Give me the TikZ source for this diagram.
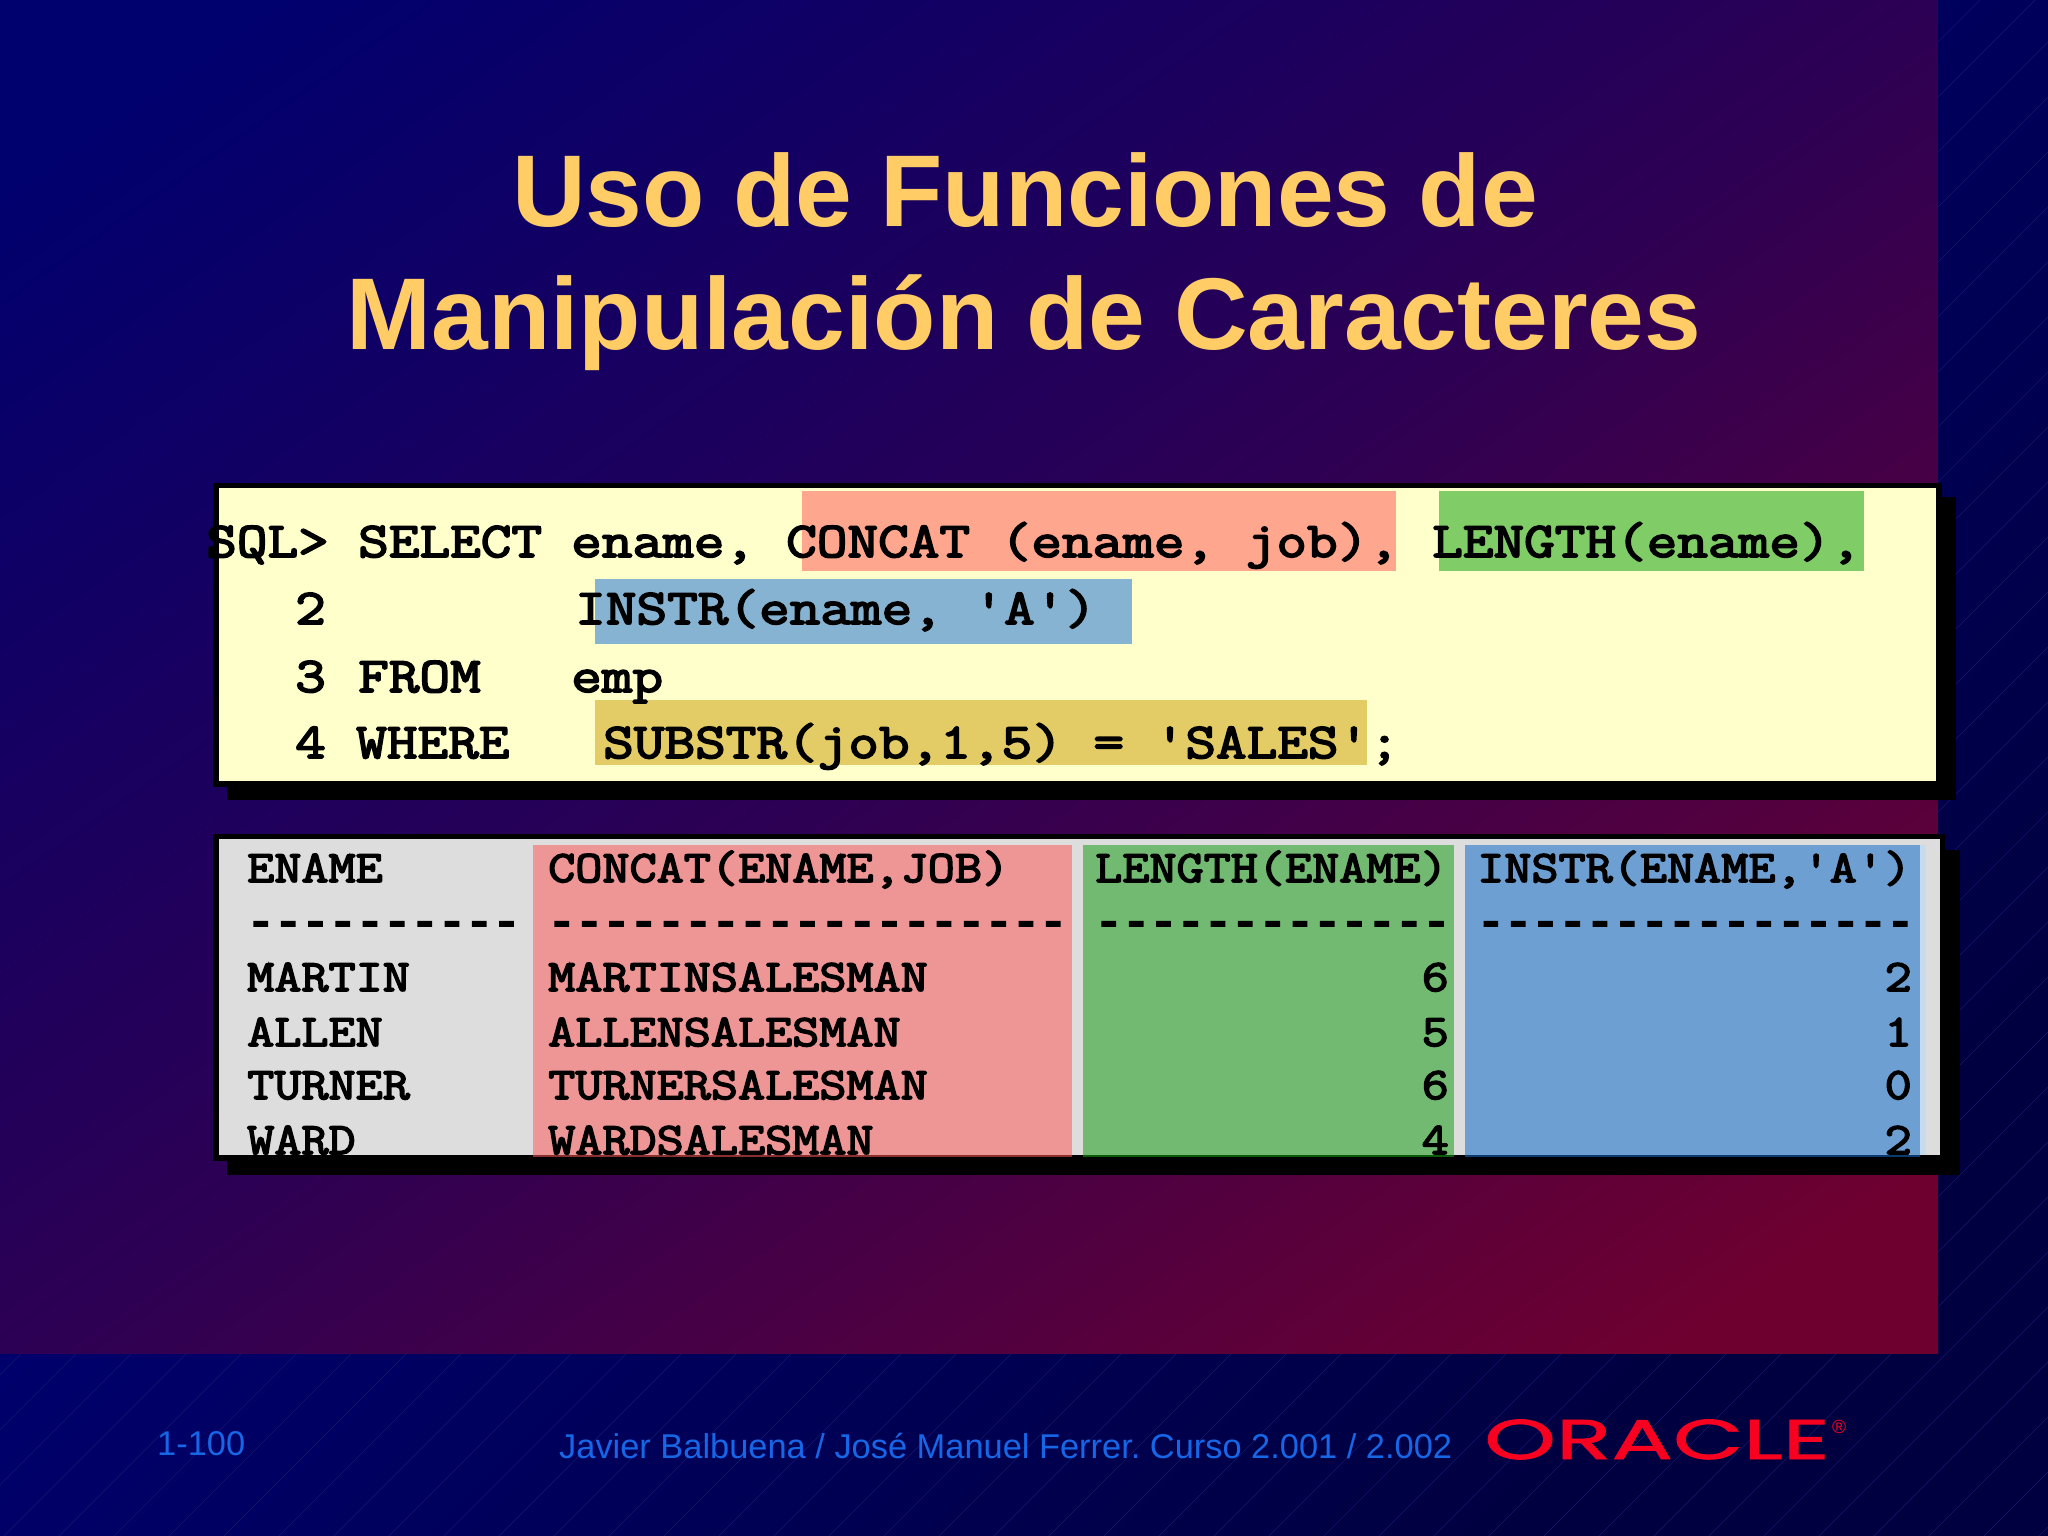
\documentclass[tikz,border=0pt]{standalone}
\usepackage{fontspec}
\setmainfont{Liberation Sans}
\newfontfamily\monoA[FakeBold=3.5,FakeStretch=1.19]{Latin Modern Mono}
\newfontfamily\monoB[FakeBold=3.5,FakeStretch=1.17]{Latin Modern Mono}
\newfontfamily\dashf[FakeBold=5]{Liberation Mono}
\newfontfamily\logof[FakeStretch=1.63,FakeBold=1.5]{Poppins}
\definecolor{bgA}{HTML}{000082}
\definecolor{bgB}{HTML}{000040}
\definecolor{panA}{HTML}{00006E}
\definecolor{panM}{HTML}{2C0054}
\definecolor{panB}{HTML}{6E0030}
\definecolor{stripe}{HTML}{18186E}
\definecolor{titlec}{HTML}{FFCC66}
\definecolor{cream}{HTML}{FFFFCC}
\definecolor{tablebg}{HTML}{DDDDDD}
\definecolor{hlred}{HTML}{FFA68E}
\definecolor{hlgreen}{HTML}{80CC66}
\definecolor{hlblue}{HTML}{85B3D1}
\definecolor{hlgold}{HTML}{E3CB66}
\definecolor{colred}{HTML}{EE9595}
\definecolor{colgreen}{HTML}{72BA72}
\definecolor{colblue}{HTML}{6D9FD2}
\definecolor{colredd}{HTML}{8A3030}
\definecolor{colgreend}{HTML}{0A5A0A}
\definecolor{colblued}{HTML}{0A3A70}
\definecolor{colbluel}{HTML}{C8DAEE}
\definecolor{footc}{HTML}{1666E6}
\definecolor{logoc}{HTML}{F80020}
\pgfdeclareverticalshading{panshade}{100bp}{color(0bp)=(panB); color(20bp)=(panB); color(50bp)=(panM); color(80bp)=(panA); color(100bp)=(panA)}
\tikzset{
  x=1pt,y=-1pt,
  sql/.style={anchor=base west,inner sep=0pt,font=\monoA\fontsize{50}{50}\selectfont,text=black},
  tab/.style={anchor=base west,inner sep=0pt,font=\monoB\fontsize{45}{45}\selectfont,text=black},
  tabr/.style={anchor=base east,inner sep=0pt,font=\monoB\fontsize{45}{45}\selectfont,text=black},
  dashrow/.style={anchor=base west,inner sep=0pt,font=\dashf\fontsize{45.5}{45.5}\selectfont,text=black},
  titletext/.style={anchor=base,inner sep=0pt,font=\bfseries\fontsize{102}{102}\selectfont,text=titlec},
  foot/.style={anchor=base west,inner sep=0pt,font=\frenchspacing\fontsize{34.4}{34.4}\selectfont,text=footc},
  stripeline/.style={stripe,line width=0.6pt},
}
\begin{document}
\begin{tikzpicture}
\useasboundingbox (0,0) rectangle (2048,1536);
\shade[top color=bgA,bottom color=bgB,shading angle=45] (0,0) rectangle (2048,1536);
\begin{scope}
\clip (0,0) rectangle (2048,1536);
\foreach \c in {0,55,...,3600} \draw[stripeline] (\c,0) -- (\c-1600,1600);
\end{scope}
\shade[shading=panshade,shading angle=35] (0,0) rectangle (1938,1353);

\node[titletext] (t1) at (1025,226) {Uso de Funciones de};
\node[titletext] (t2) at (1024,349) {Manipulación de Caracteres};

% SQL panel
\fill[black] (227,497) rectangle (1956,800);
\fill[black] (213,483) rectangle (1942,787);
\fill[cream] (219,488) rectangle (1936,781);
\fill[hlred] (802,491) rectangle (1396,571);
\fill[hlgreen] (1439,491) rectangle (1864,571);
\fill[hlblue] (595,579) rectangle (1132,644);
\fill[hlgold] (595,700) rectangle (1367,765);
\node[sql] (s1) at (206,557) {SQL>};
\node[sql] (s2) at (358,557) {SELECT};
\node[sql] (s3) at (571,557) {ename,};
\node[sql] (s4) at (786,557) {CONCAT (ename, job),};
\node[sql] (s5) at (1432,557) {LENGTH(ename),};
\node[sql] (s6) at (295,624) {2};
\node[sql] (s7) at (575,624) {INSTR(ename, 'A')};
\node[sql] (s8) at (295,692) {3};
\node[sql] (s9) at (358,692) {FROM};
\node[sql] (s10) at (571,692) {emp};
\node[sql] (s11) at (295,758) {4};
\node[sql] (s12) at (356,758) {WHERE};
\node[sql] (s13) at (603,758) {SUBSTR(job,1,5) = 'SALES';};

% result panel
\fill[black] (227,850) rectangle (1960,1175);
\fill[black] (213,834) rectangle (1945,1161);
\fill[tablebg] (219,839) rectangle (1940,1155);
\fill[colredd] (533,1155) rectangle (1072,1157);
\fill[colgreend] (1083,1155) rectangle (1454,1157);
\fill[colblued] (1465,1155) rectangle (1920,1157);
\fill[colred] (533,845) rectangle (1072,1155);
\fill[colgreen] (1083,845) rectangle (1454,1155);
\fill[colbluel] (1920,845) rectangle (1926,1155);
\fill[colblue] (1465,845) rectangle (1920,1155);
\node[tab] (h1) at (247,882) {ENAME};
\node[tab] (h2) at (548,882) {CONCAT(ENAME,JOB)};
\node[tab] (h3) at (1095,882) {LENGTH(ENAME)};
\node[tab] (h4) at (1477,882) {INSTR(ENAME,'A')};
\node[dashrow] (d1) at (247,936) {----------};
\node[dashrow] (d2) at (548,936) {-------------------};
\node[dashrow] (d3) at (1095,936) {-------------};
\node[dashrow] (d4) at (1477,936) {----------------};
\node[tab] (n1) at (247,991) {MARTIN};
\node[tab] (n2) at (247,1046) {ALLEN};
\node[tab] (n3) at (247,1099) {TURNER};
\node[tab] (n4) at (247,1154) {WARD};
\node[tab] (c1) at (548,991) {MARTINSALESMAN};
\node[tab] (c2) at (548,1046) {ALLENSALESMAN};
\node[tab] (c3) at (548,1099) {TURNERSALESMAN};
\node[tab] (c4) at (548,1154) {WARDSALESMAN};
\node[tabr] (l1) at (1449,991) {6};
\node[tabr] (l2) at (1449,1046) {5};
\node[tabr] (l3) at (1449,1099) {6};
\node[tabr] (l4) at (1449,1154) {4};
\node[tabr] (i1) at (1912,991) {2};
\node[tabr] (i2) at (1912,1046) {1};
\node[tabr] (i3) at (1912,1099) {0};
\node[tabr] (i4) at (1912,1154) {2};

% footer
\node[foot] (f1) at (157,1455) {1-100};
\node[foot] (f2) at (559,1458) {Javier Balbuena / José Manuel Ferrer. Curso 2.001 / 2.002};
\node[anchor=base west,inner sep=0pt,font=\logof\fontsize{56}{56}\selectfont,text=logoc] (lg) at (1484,1459) {ORACLE};
\node[anchor=base west,inner sep=0pt,font=\fontsize{19}{19}\selectfont,text=logoc] (rg) at (1832,1433) {®};
\end{tikzpicture}
\end{document}
